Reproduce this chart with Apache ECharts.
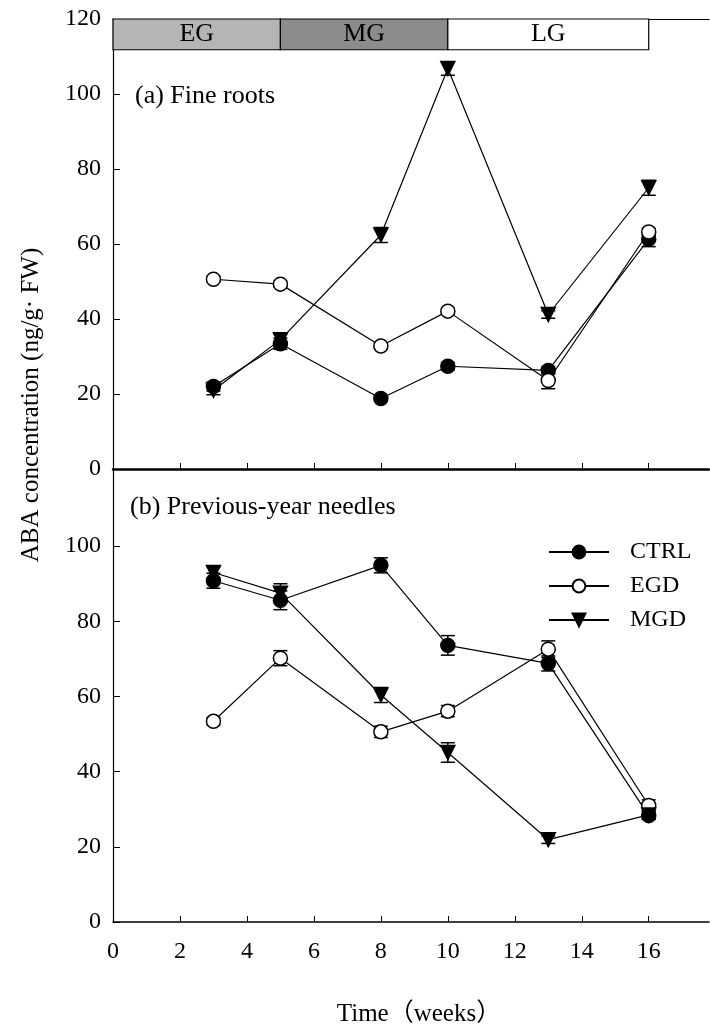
<!DOCTYPE html>
<html>
<head>
<meta charset="utf-8">
<script src="https://cdn.jsdelivr.net/npm/echarts@6/dist/echarts.min.js"></script>
<style>
    html, body { margin: 0; padding: 0; background: #fff; }
    #main { width: 710px; height: 1028px; }
</style>
</head>
<body>
<div id="main"></div>
<script>
//采样时间（周）
var weeks = [3, 5, 8, 10, 13, 16];

//(a) 细根 ABA 含量及误差
var rootCtrl = [22.0, 33.4, 18.8, 27.4, 26.3, 61.3];
var rootCtrlErr = [1.2, 1.5, 0.8, 1.0, 1.0, 2.0];
var rootEgd = [50.6, 49.3, 32.8, 42.1, 23.6, 63.2];
var rootEgdErr = [0.8, 0.8, 0.8, 0.8, 2.2, 1.0];
var rootMgd = [21.0, 34.5, 62.4, 106.8, 41.2, 75.0];
var rootMgdErr = [1.2, 1.5, 2.0, 1.8, 1.0, 2.0];

//(b) 上年针叶 ABA 含量及误差
var needleCtrl = [90.8, 85.6, 94.9, 73.6, 68.8, 28.3];
var needleCtrlErr = [2.0, 2.5, 2.0, 2.6, 2.0, 1.0];
var needleEgd = [53.4, 70.2, 50.6, 56.1, 72.6, 31.0];
var needleEgdErr = [1.0, 2.0, 1.5, 1.5, 2.2, 1.5];
var needleMgd = [93.0, 87.5, 60.4, 45.1, 21.9, 28.5];
var needleMgdErr = [1.5, 2.5, 2.0, 2.6, 1.0, 1.0];

//生长阶段
var phaseNames = ['EG', 'MG', 'LG'];
var phaseStart = [0, 5, 10];
var phaseEnd = [5, 10, 16];
var phaseColors = ['#b5b5b5', '#8c8c8c', '#ffffff'];
var phaseBottom = 111.8;
var phaseTop = 120;

//刻度
var xTicks = [0, 2, 4, 6, 8, 10, 12, 14, 16];
var rootTicks = [0, 20, 40, 60, 80, 100, 120];
var needleTicks = [0, 20, 40, 60, 80, 100];

var serif = '"Liberation Serif", "Times New Roman", "Noto Sans CJK SC", serif';

//组合成 [x, y]
function pairs(ys) {
    var d = [];
    for (var i = 0; i < weeks.length; i++) {
        d.push([weeks[i], ys[i]]);
    }
    return d;
}

//组合成 [x, y, err]
function triples(ys, errs) {
    var d = [];
    for (var i = 0; i < weeks.length; i++) {
        d.push([weeks[i], ys[i], errs[i]]);
    }
    return d;
}

//误差线
function renderError(params, api) {
    var x = api.value(0), y = api.value(1), e = api.value(2);
    var hi = api.coord([x, y + e]);
    var lo = api.coord([x, y - e]);
    var w = 7;
    var st = { stroke: '#000', lineWidth: 1.5 };
    return {
        type: 'group',
        children: [
            { type: 'line', shape: { x1: hi[0], y1: hi[1], x2: lo[0], y2: lo[1] }, style: st },
            { type: 'line', shape: { x1: hi[0] - w, y1: hi[1], x2: hi[0] + w, y2: hi[1] }, style: st },
            { type: 'line', shape: { x1: lo[0] - w, y1: lo[1], x2: lo[0] + w, y2: lo[1] }, style: st }
        ]
    };
}

//三种处理的样式
var styles = {
    CTRL: { symbol: 'circle', symbolRotate: 0, color: '#000' },
    EGD: { symbol: 'circle', symbolRotate: 0, color: '#fff' },
    MGD: { symbol: 'triangle', symbolRotate: 180, color: '#000' }
};

function lineSeries(name, ys, gridIndex) {
    var s = styles[name];
    return {
        name: name,
        type: 'line',
        xAxisIndex: gridIndex == 0 ? 0 : 2,
        yAxisIndex: gridIndex,
        data: pairs(ys),
        symbol: s.symbol,
        symbolRotate: s.symbolRotate,
        symbolSize: 14,
        color: '#000',
        lineStyle: { color: '#000', width: 1.2 },
        itemStyle: { color: s.color, borderColor: '#000', borderWidth: 1.5 },
        z: 3,
        silent: true,
        animation: false
    };
}

//误差线系列（名字不同，不进图例）
function errorSeries(name, ys, errs, gridIndex) {
    return {
        name: name + ' err',
        type: 'custom',
        xAxisIndex: gridIndex == 0 ? 0 : 2,
        yAxisIndex: gridIndex,
        data: triples(ys, errs),
        renderItem: renderError,
        z: 2,
        silent: true,
        animation: false
    };
}

//阶段标识条
function phaseAreas() {
    var d = [];
    for (var i = 0; i < phaseNames.length; i++) {
        d.push([
            { name: phaseNames[i], xAxis: phaseStart[i], yAxis: phaseBottom, itemStyle: { color: phaseColors[i] } },
            { xAxis: phaseEnd[i], yAxis: phaseTop }
        ]);
    }
    return d;
}

function xAxisBase(gridIndex, lineWidth) {
    return {
        type: 'value',
        gridIndex: gridIndex,
        min: 0,
        max: 17.8,
        interval: 2,
        axisLine: { show: true, onZero: false, lineStyle: { color: '#000', width: lineWidth } },
        axisTick: { show: true, inside: true, length: 6, customValues: xTicks, lineStyle: { color: '#000', width: 1 } },
        splitLine: { show: false },
        axisLabel: { show: false }
    };
}

function yAxisBase(gridIndex, ticks) {
    return {
        type: 'value',
        gridIndex: gridIndex,
        min: 0,
        max: 120,
        interval: 20,
        axisLine: { show: true, lineStyle: { color: '#000', width: 1.2 } },
        axisTick: { show: true, inside: true, length: 7, customValues: ticks, lineStyle: { color: '#000', width: 1 } },
        splitLine: { show: false },
        axisLabel: { customValues: ticks, color: '#000', fontSize: 24, fontFamily: serif, margin: 12 }
    };
}

var myChart = echarts.init(document.getElementById('main'));

var bottomX = xAxisBase(1, 1.5);
bottomX.axisLabel = { show: true, customValues: xTicks, color: '#000', fontSize: 24, fontFamily: serif, margin: 18 };
var topLine = xAxisBase(0, 1);
topLine.position = 'top';
topLine.axisTick = { show: false };
var rootX = xAxisBase(0, 2.5);

var option = {
    animation: false,
    grid: [
        { left: 113, right: 1, top: 19, height: 450 },
        { left: 113, right: 1, top: 471, height: 451 }
    ],
    xAxis: [rootX, topLine, bottomX],
    yAxis: [yAxisBase(0, rootTicks), yAxisBase(1, needleTicks)],
    legend: {
        data: ['CTRL', 'EGD', 'MGD'],
        orient: 'vertical',
        left: 548,
        top: 540,
        padding: 0,
        itemWidth: 60,
        itemHeight: 16,
        itemGap: 10,
        selectedMode: false,
        textStyle: { color: '#000', fontSize: 24, fontFamily: serif, padding: [0, 0, 0, 16] }
    },
    graphic: [
        { type: 'text', left: 135, top: 83, style: { text: '(a) Fine roots', fill: '#000', font: '26px ' + serif } },
        { type: 'text', left: 130, top: 494, style: { text: '(b) Previous-year needles', fill: '#000', font: '26px ' + serif } },
        { type: 'text', x: 31, y: 405, rotation: Math.PI / 2, style: { text: 'ABA concentration (ng/g· FW)', fill: '#000', font: '25px ' + serif, textAlign: 'center', textVerticalAlign: 'middle' } },
        { type: 'text', x: 419, y: 1014, style: { text: 'Time（weeks）', fill: '#000', font: '25px ' + serif, textAlign: 'center', textVerticalAlign: 'middle' } }
    ],
    series: [
        {
            name: 'phase',
            type: 'line',
            xAxisIndex: 0,
            yAxisIndex: 0,
            data: [],
            silent: true,
            markArea: {
                silent: true,
                itemStyle: { borderColor: '#000', borderWidth: 1.2 },
                label: { show: true, position: 'inside', color: '#000', fontSize: 26, fontFamily: serif },
                data: phaseAreas()
            }
        },
        errorSeries('CTRL', rootCtrl, rootCtrlErr, 0),
        errorSeries('EGD', rootEgd, rootEgdErr, 0),
        errorSeries('MGD', rootMgd, rootMgdErr, 0),
        lineSeries('CTRL', rootCtrl, 0),
        lineSeries('EGD', rootEgd, 0),
        lineSeries('MGD', rootMgd, 0),
        errorSeries('CTRL', needleCtrl, needleCtrlErr, 1),
        errorSeries('EGD', needleEgd, needleEgdErr, 1),
        errorSeries('MGD', needleMgd, needleMgdErr, 1),
        lineSeries('CTRL', needleCtrl, 1),
        lineSeries('EGD', needleEgd, 1),
        lineSeries('MGD', needleMgd, 1)
    ]
};

myChart.setOption(option);
</script>
</body>
</html>
